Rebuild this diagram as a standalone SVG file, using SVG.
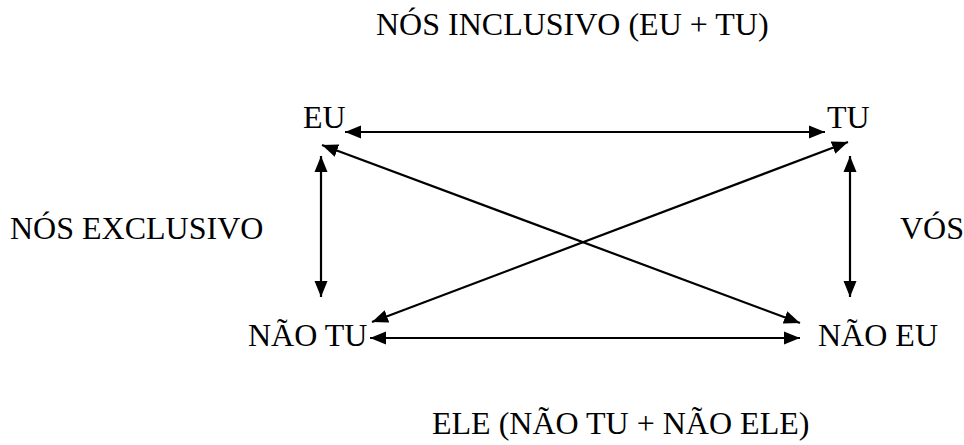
<svg xmlns="http://www.w3.org/2000/svg" width="964" height="445" viewBox="0 0 964 445">
<style>
text{font-family:"Liberation Serif","Times New Roman",serif;font-size:32px;fill:#000}
.c line{stroke:#000;stroke-width:2.2;marker-start:url(#ah);marker-end:url(#ah)}
</style>
<defs>
<marker id="ah" markerUnits="userSpaceOnUse" markerWidth="18" markerHeight="14" refX="16" refY="7" orient="auto-start-reverse" viewBox="0 0 18 14">
<path d="M0,0.5 L16,7 L0,13.5 z" fill="#000"/>
</marker>
</defs>
<rect width="964" height="445" fill="#fff"/>
<g id="title"><text x="376" y="35">NÓS INCLUSIVO (EU + TU)</text></g>
<g id="eu"><text x="303" y="128">EU</text></g>
<g id="tu"><text x="827" y="128">TU</text></g>
<g id="nos-exclusivo"><text x="10" y="239">NÓS EXCLUSIVO</text></g>
<g id="vos"><text x="900" y="239">VÓS</text></g>
<g id="nao-tu"><text x="248" y="346">NÃO TU</text></g>
<g id="nao-eu"><text x="818" y="346">NÃO EU</text></g>
<g id="ele"><text x="432" y="434">ELE (NÃO TU + NÃO ELE)</text></g>
<g class="c" id="connectors">
<line x1="345" y1="132" x2="825" y2="132"/>
<line x1="370" y1="338" x2="800" y2="338"/>
<line x1="321" y1="156" x2="321" y2="297"/>
<line x1="850" y1="156" x2="850" y2="297"/>
<line x1="322" y1="145" x2="800" y2="323"/>
<line x1="848" y1="142" x2="372" y2="322"/>
</g>
</svg>
